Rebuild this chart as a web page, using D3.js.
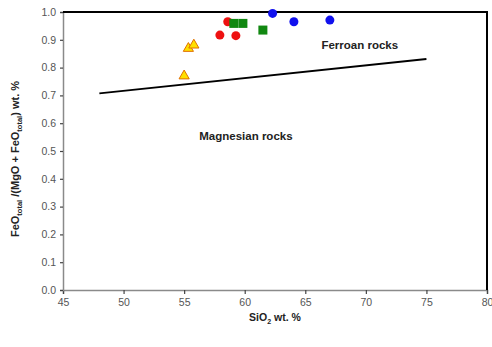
<!DOCTYPE html>
<html>
<head>
<meta charset="utf-8">
<script src="https://cdn.jsdelivr.net/npm/d3@7/dist/d3.min.js"></script>
<style>
  html, body { margin: 0; padding: 0; background: #fff; }
  svg { display: block; font-family: "Liberation Sans", Arial, sans-serif; }
</style>
</head>
<body>
<svg id="chart" width="492" height="347"></svg>
<script>
// ---- Data ----
const xTicks = [45, 50, 55, 60, 65, 70, 75, 80];
const yTicks = [0.0, 0.1, 0.2, 0.3, 0.4, 0.5, 0.6, 0.7, 0.8, 0.9, 1.0];

// Ferroan / Magnesian boundary line (SiO2, Fe-number)
const boundaryLine = [[48, 0.707], [75, 0.831]];

// Sample groups
const yellowTriangles = [[55.0, 0.770], [55.35, 0.869], [55.8, 0.881]];
const redCircles = [[58.6, 0.965], [57.95, 0.917], [59.27, 0.915]];
const greenSquares = [[59.1, 0.959], [59.85, 0.959], [61.5, 0.935]];
const blueCircles = [[62.3, 0.995], [64.06, 0.965], [67.03, 0.971]];

const regionLabels = [
  { text: "Ferroan rocks", x: 69.5, y: 0.877 },
  { text: "Magnesian rocks", x: 60.1, y: 0.55 }
];

// ---- Layout ----
const svg = d3.select("#chart");
const L = 63, R = 487, T = 12, B = 290;

const x = d3.scaleLinear().domain([45, 80]).range([L, R]);
const y = d3.scaleLinear().domain([0, 1]).range([B, T]);

// Axes
const xAxis = svg.append("g")
  .attr("transform", `translate(0,${B})`)
  .call(d3.axisBottom(x).tickValues(xTicks).tickSize(4).tickPadding(5).tickFormat(d3.format("d")));
const yAxis = svg.append("g")
  .attr("transform", `translate(${L},0)`)
  .call(d3.axisLeft(y).tickValues(yTicks).tickSize(3).tickPadding(4).tickFormat(d3.format(".1f")));

[xAxis, yAxis].forEach(g => {
  g.select(".domain").attr("stroke", "#8a8a8a").attr("stroke-width", 1.5);
  g.selectAll(".tick line").attr("stroke", "#444").attr("stroke-width", 1.2);
  g.selectAll(".tick text").attr("fill", "#555").attr("font-size", 10.5)
    .attr("font-family", "'Liberation Sans', Arial, sans-serif");
});

// Top and right borders
svg.append("line").attr("x1", L).attr("x2", R + 1).attr("y1", T).attr("y2", T)
  .attr("stroke", "#000").attr("stroke-width", 2);
svg.append("line").attr("x1", R).attr("x2", R).attr("y1", T).attr("y2", B)
  .attr("stroke", "#000").attr("stroke-width", 2);

// Boundary line
svg.append("path")
  .datum(boundaryLine)
  .attr("d", d3.line().x(d => x(d[0])).y(d => y(d[1])))
  .attr("fill", "none").attr("stroke", "#000").attr("stroke-width", 1.8);

// Region labels
svg.selectAll(".region").data(regionLabels).enter().append("text")
  .attr("x", d => x(d.x)).attr("y", d => y(d.y))
  .attr("text-anchor", "middle").attr("dominant-baseline", "middle")
  .attr("font-size", 11.5).attr("font-weight", "bold").attr("fill", "#222")
  .text(d => d.text);

// Markers
svg.selectAll(".tri").data(yellowTriangles).enter().append("path")
  .attr("transform", d => `translate(${x(d[0])},${y(d[1])})`)
  .attr("d", d3.symbol().type(d3.symbolTriangle).size(45))
  .attr("fill", "#ffe000").attr("stroke", "#e07000").attr("stroke-width", 1);

svg.selectAll(".red").data(redCircles).enter().append("circle")
  .attr("cx", d => x(d[0])).attr("cy", d => y(d[1])).attr("r", 4.5)
  .attr("fill", "#ee1111");

svg.selectAll(".green").data(greenSquares).enter().append("rect")
  .attr("x", d => x(d[0]) - 4.5).attr("y", d => y(d[1]) - 4.5)
  .attr("width", 9).attr("height", 9)
  .attr("fill", "#118811");

svg.selectAll(".blue").data(blueCircles).enter().append("circle")
  .attr("cx", d => x(d[0])).attr("cy", d => y(d[1])).attr("r", 4.5)
  .attr("fill", "#1111ee");

// Axis titles
const xt = svg.append("text")
  .attr("x", x(62.5)).attr("y", 321)
  .attr("text-anchor", "middle").attr("font-size", 10.5).attr("font-weight", "bold").attr("fill", "#222");
xt.append("tspan").text("SiO");
xt.append("tspan").text("2").attr("font-size", 7).attr("dy", 2.5);
xt.append("tspan").text(" wt. %").attr("dy", -2.5);

const yt = svg.append("text")
  .attr("transform", `translate(19,${(T + B) / 2 + 8}) rotate(-90)`)
  .attr("text-anchor", "middle").attr("font-size", 11).attr("font-weight", "bold").attr("fill", "#222");
yt.append("tspan").text("FeO");
yt.append("tspan").text("total").attr("font-size", 7.5).attr("dy", 2.5);
yt.append("tspan").text(" /(MgO + FeO").attr("dy", -2.5);
yt.append("tspan").text("total").attr("font-size", 7.5).attr("dy", 2.5);
yt.append("tspan").text(") wt. %").attr("dy", -2.5);
</script>
</body>
</html>
